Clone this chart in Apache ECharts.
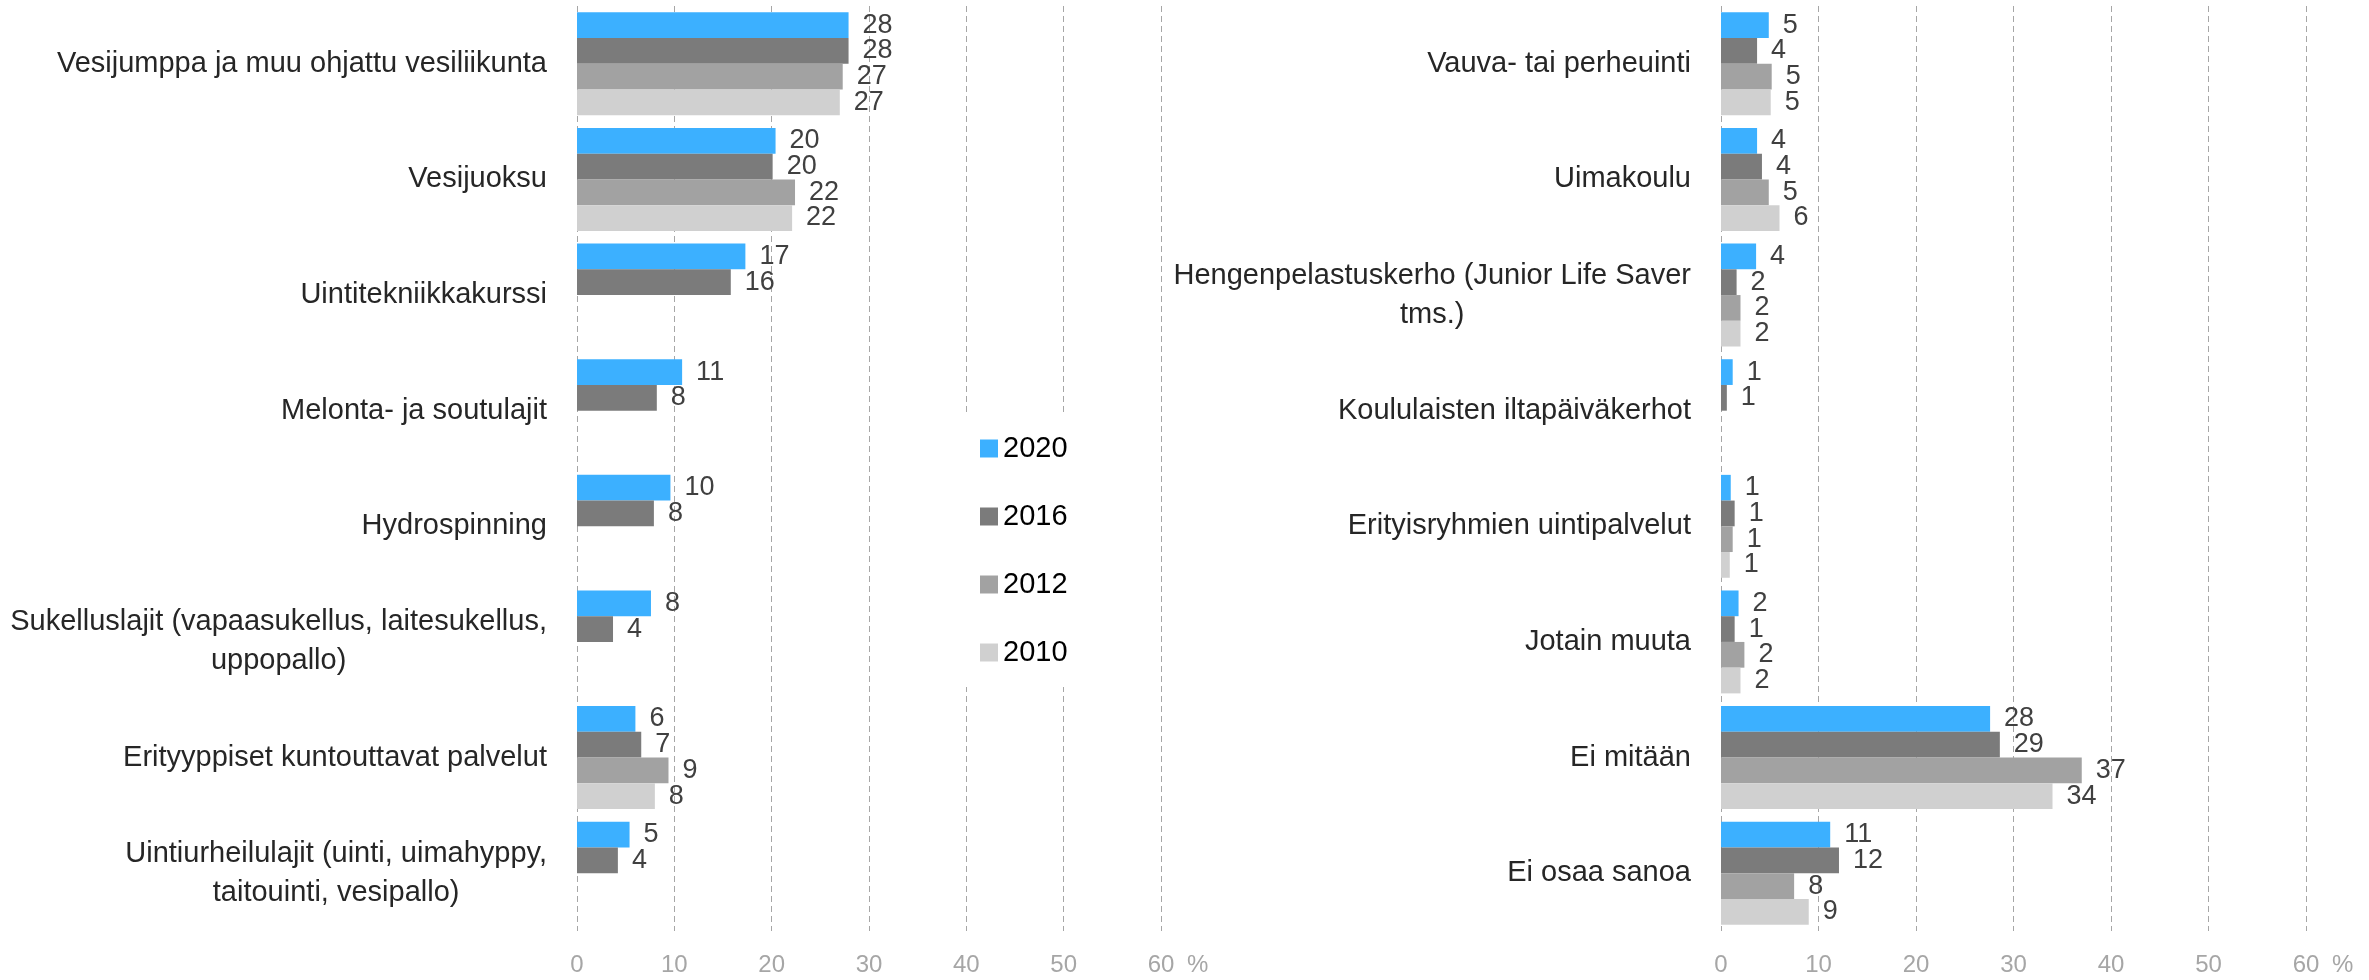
<!DOCTYPE html>
<html>
<head>
<meta charset="utf-8">
<script src="https://cdn.jsdelivr.net/npm/echarts@6/dist/echarts.min.js"></script>
<style>
html, body { margin: 0; padding: 0; background: #fff; }
#chart { width: 2369px; height: 980px; }
</style>
</head>
<body>
<div id="chart"></div>
<script>
// vuodet ja värit
const years = ['2020', '2016', '2012', '2010'];
const colors = ['#3CB0FF', '#7B7B7B', '#A2A2A2', '#D0D0D0'];
const axisTicks = [0, 10, 20, 30, 40, 50, 60];

// vasen kuvio
const leftCategories = [
    'Vesijumppa ja muu ohjattu vesiliikunta',
    'Vesijuoksu',
    'Uintitekniikkakurssi',
    'Melonta- ja soutulajit',
    'Hydrospinning',
    'Sukelluslajit (vapaasukellus, laitesukellus,\nuppopallo)',
    'Erityyppiset kuntouttavat palvelut',
    'Uintiurheilulajit (uinti, uimahyppy,\ntaitouinti, vesipallo)'
];
const left2020 = [27.9, 20.4, 17.3, 10.8, 9.6, 7.6, 6.0, 5.4];
const left2016 = [27.9, 20.1, 15.8, 8.2, 7.9, 3.7, 6.6, 4.2];
const left2012 = [27.3, 22.4, '-', '-', '-', '-', 9.4, '-'];
const left2010 = [27.0, 22.1, '-', '-', '-', '-', 8.0, '-'];

// oikea kuvio
const rightCategories = [
    'Vauva- tai perheuinti',
    'Uimakoulu',
    'Hengenpelastuskerho (Junior Life Saver\ntms.)',
    'Koululaisten iltapäiväkerhot',
    'Erityisryhmien uintipalvelut',
    'Jotain muuta',
    'Ei mitään',
    'Ei osaa sanoa'
];
const right2020 = [4.9, 3.7, 3.6, 1.2, 1.0, 1.8, 27.6, 11.2];
const right2016 = [3.7, 4.2, 1.6, 0.6, 1.4, 1.4, 28.6, 12.1];
const right2012 = [5.2, 4.9, 2.0, '-', 1.2, 2.4, 37.0, 7.5];
const right2010 = [5.1, 6.0, 2.0, '-', 0.9, 2.0, 34.0, 9.0];

const FONT = '"Liberation Sans", Arial, sans-serif';

var myChart = echarts.init(document.getElementById('chart'));

function makeXAxis(gridIndex) {
    return {
        type: 'value',
        gridIndex: gridIndex,
        min: axisTicks[0],
        max: axisTicks[axisTicks.length - 1],
        interval: 10,
        // tyhjä rivi siirtää %-merkin tikkien tasolle
        name: '\n%',
        nameLocation: 'end',
        nameGap: 26,
        nameTextStyle: {
            color: '#A6A6A6',
            fontSize: 24,
            fontFamily: FONT,
            lineHeight: 68
        },
        axisLine: { show: false },
        axisTick: { show: false },
        axisLabel: {
            color: '#A6A6A6',
            fontSize: 24,
            fontFamily: FONT,
            margin: 22
        },
        splitLine: {
            show: true,
            lineStyle: { color: '#A6A6A6', type: [6, 4], width: 1 }
        }
    };
}

function makeYAxis(gridIndex, cats) {
    return {
        type: 'category',
        gridIndex: gridIndex,
        data: cats,
        inverse: true,
        axisLine: { show: false },
        axisTick: { show: false },
        axisLabel: {
            margin: 30,
            fontSize: 29,
            fontFamily: FONT,
            color: '#262626',
            lineHeight: 39,
            formatter: function (v) {
                return v.split('\n').map(function (s) { return '{c|' + s + '}'; }).join('\n');
            },
            rich: {
                c: {
                    align: 'center',
                    fontSize: 29,
                    fontFamily: FONT,
                    color: '#262626',
                    lineHeight: 39
                }
            }
        }
    };
}

function makeSeries(gridIndex, lists) {
    return lists.map(function (data, i) {
        return {
            name: years[i],
            type: 'bar',
            xAxisIndex: gridIndex,
            yAxisIndex: gridIndex,
            data: data,
            barGap: '0%',
            barCategoryGap: '11%',
            itemStyle: { color: colors[i] },
            label: {
                show: true,
                position: 'right',
                distance: 14,
                color: '#404040',
                fontSize: 27,
                fontFamily: FONT,
                formatter: function (p) { return Math.round(p.value); }
            }
        };
    });
}

myChart.setOption({
    animation: false,
    legend: {
        data: years,
        orient: 'vertical',
        left: 960,
        top: 412,
        padding: [22, 20, 20, 20],
        backgroundColor: '#ffffff',
        itemWidth: 18,
        itemHeight: 18,
        itemGap: 39,
        icon: 'rect',
        textStyle: {
            color: '#000000',
            fontSize: 29,
            fontFamily: FONT
        }
    },
    grid: [
        { left: 577, right: 1208, top: 6, bottom: 49, containLabel: false, outerBoundsMode: 'none' },
        { left: 1721, right: 63, top: 6, bottom: 49, containLabel: false, outerBoundsMode: 'none' }
    ],
    xAxis: [makeXAxis(0), makeXAxis(1)],
    yAxis: [makeYAxis(0, leftCategories), makeYAxis(1, rightCategories)],
    series: makeSeries(0, [left2020, left2016, left2012, left2010])
        .concat(makeSeries(1, [right2020, right2016, right2012, right2010]))
});
</script>
</body>
</html>
